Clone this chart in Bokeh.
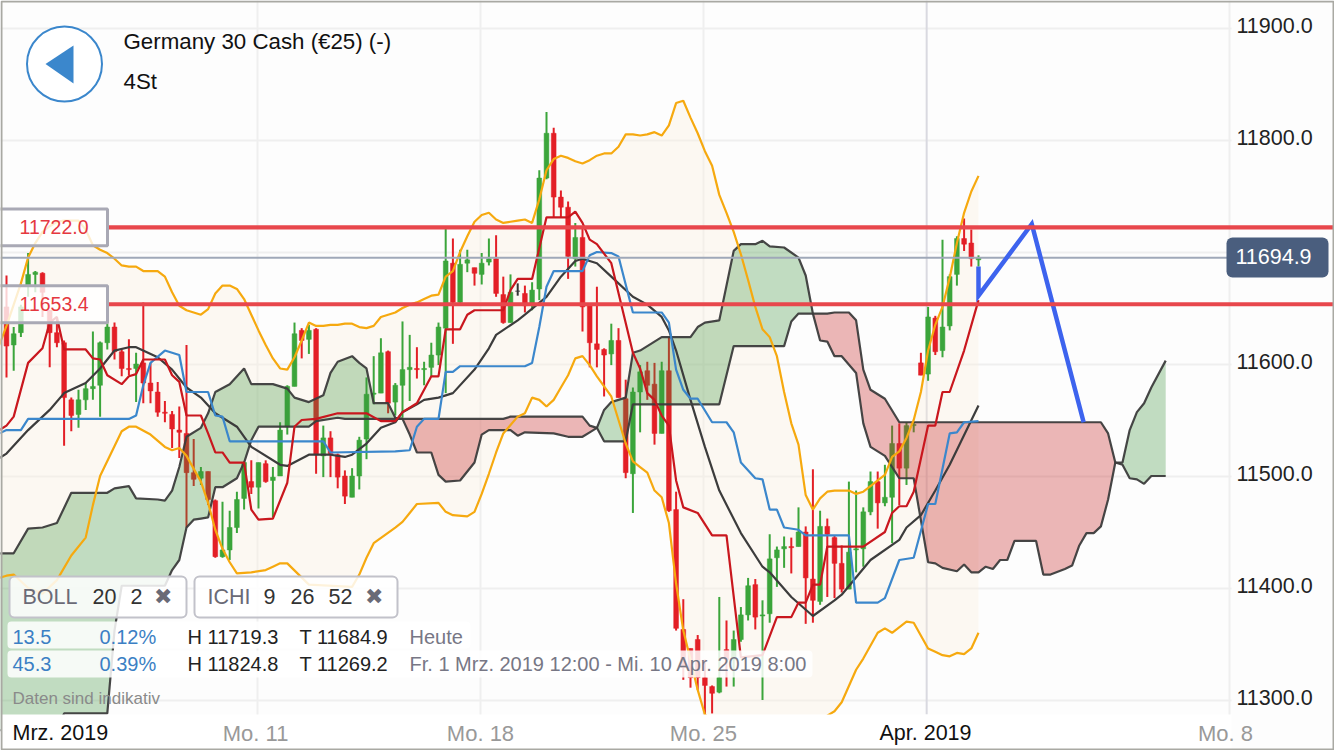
from bokeh.embed import file_html
from bokeh.models import BoxAnnotation, FixedTicker, Label, LinearAxis, Range1d
from bokeh.plotting import figure
from bokeh.resources import INLINE

# ---- data (price values; x is the 4h candle number) ----
opens = [11651,11617,11628,11670,11680,11681,11648,11628,11619,11568,
11555,11568,11578,11581,11619,11633,11611,11596,11596,11601,
11583,11575,11557,11555,11541,11538,11503,11498,11504,11478,
11428,11434,11454,11480,11495,11490,11511,11496,11500,11544,
11580,11630,11622,11631,11518,11534,11519,11500,11481,11500,
11533,11573,11574,11611,11566,11581,11595,11596,11595,11597,
11608,11632,11690,11655,11690,11686,11680,11691,11694,11662,
11637,11665,11663,11653,11667,11766,11806,11749,11740,11694,
11713,11652,11618,11613,11609,11621,11569,11502,11575,11594,
11582,11538,11594,11470,11363,11346,11354,11320,11312,11307,
11345,11336,11354,11376,11403,11375,11377,11427,11435,11437,
11437,11450,11408,11388,11455,11445,11422,11399,11434,11435,
11468,11495,11476,11481,11529,11507,11545,11601,11591,11641,
11612,11634,11680,11712,11708,11693]
closes = [11616,11627,11651,11680,11682,11664,11628,11619,11570,11554,
11568,11578,11580,11619,11633,11611,11596,11595,11600,11583,
11576,11557,11556,11542,11539,11503,11497,11504,11479,11428,
11434,11454,11479,11512,11490,11512,11495,11499,11541,11580,
11627,11621,11630,11519,11534,11520,11499,11482,11500,11532,
11573,11574,11610,11565,11581,11595,11597,11595,11596,11608,
11633,11692,11655,11689,11693,11681,11690,11694,11663,11637,
11664,11665,11652,11666,11766,11806,11749,11740,11696,11713,
11651,11619,11613,11608,11621,11570,11503,11575,11593,11581,
11538,11594,11469,11364,11329,11320,11320,11313,11306,11320,
11336,11354,11376,11402,11374,11376,11426,11434,11437,11436,
11450,11409,11389,11455,11448,11422,11399,11432,11435,11468,
11495,11476,11481,11529,11507,11545,11546,11590,11642,11611,
11633,11678,11712,11707,11694,11694.9]
highs = [11679,11633,11653,11699,11683,11682,11648,11642,11621,11570,
11577,11583,11629,11620,11637,11637,11613,11622,11610,11655,
11601,11584,11567,11558,11562,11617,11533,11508,11504,11479,
11477,11469,11486,11513,11514,11512,11514,11508,11548,11581,
11637,11632,11635,11632,11545,11540,11520,11505,11507,11535,
11588,11607,11623,11612,11583,11638,11626,11615,11602,11619,
11637,11721,11712,11702,11702,11686,11699,11712,11715,11678,
11680,11672,11670,11673,11773,11825,11811,11755,11745,11726,
11721,11652,11669,11614,11636,11632,11586,11579,11599,11602,
11601,11602,11624,11486,11390,11346,11358,11336,11313,11392,
11371,11362,11383,11409,11408,11389,11448,11437,11446,11445,
11472,11455,11506,11469,11462,11447,11438,11495,11487,11472,
11504,11504,11510,11545,11547,11548,11548,11610,11651,11643,
11711,11680,11714,11730,11720,11697]
lows = [11588,11594,11624,11660,11664,11642,11597,11615,11527,11540,
11543,11559,11568,11553,11613,11604,11589,11590,11566,11565,
11565,11553,11548,11525,11516,11454,11491,11492,11474,11427,
11427,11425,11449,11470,11484,11471,11494,11463,11500,11537,
11580,11605,11609,11502,11499,11499,11489,11475,11481,11488,
11515,11564,11574,11556,11554,11552,11567,11587,11581,11589,
11599,11574,11618,11654,11682,11670,11671,11688,11660,11636,
11637,11661,11646,11648,11657,11765,11731,11731,11676,11687,
11629,11597,11597,11571,11599,11570,11498,11467,11539,11568,
11528,11538,11468,11362,11318,11311,11309,11269,11288,11306,
11312,11312,11352,11371,11363,11300,11369,11401,11418,11413,
11437,11368,11369,11385,11392,11391,11396,11399,11414,11419,
11465,11453,11473,11440,11474,11492,11539,11590,11585,11608,
11606,11630,11670,11701,11687,11687]

boll_upper_x = list(range(-1, 136))
boll_upper = [11617,11634,11653,11672,11695,11708,11718,11723,11727,11728,11728,
11728,11720,11706,11702,11699,11694,11688,11687,11687,11683,
11683,11683,11678,11664,11652,11648,11646,11644,11649,11663,
11670,11670,11667,11658,11644,11630,11617,11605,11596,11595,
11606,11621,11637,11634,11634,11635,11635,11636,11636,11633,
11632,11634,11642,11644,11646,11650,11653,11655,11658,11661,
11662,11678,11683,11700,11714,11727,11733,11735,11729,11726,
11727,11728,11729,11726,11747,11773,11783,11786,11784,11781,
11779,11782,11786,11788,11788,11794,11805,11805,11804,11805,
11807,11804,11813,11833,11835,11820,11806,11790,11777,11751,
11735,11718,11698,11675,11651,11631,11624,11607,11575,11547,
11528,11483,11470,11480,11486,11487,11487,11487,11484,11486,
11491,11496,11501,11517,11522,11534,11550,11575,11612,11635,
11651,11677,11708,11735,11754,11768]

boll_lower_x = [-1,0,1,3,5,7,9,11,12,13,16,17,18,20,22,23,24,25,27,28,29,30,31,32,34,36,37,38,39,42,48,49,50,51,54,55,56,57,60,61,62,64,65,66,67,68,69,71,72,73,74,75,76,77,78,79,80,81,82,83,84,85,86,87,88,89,90,91,92,93,94,95,96,97,100,105,110,112,113,114,115,116,118,119,121,122,123,125,126,128,129,130,131,132,133,134,135]
boll_lower = [11409,11411,11412,11400,11395,11407,11429,11445,11474,11500,11540,11544,11544,11537,11526,11523,11525,11518,11495,11476,11452,11435,11423,11413,11414,11416,11419,11422,11422,11403,11401,11412,11427,11440,11454,11459,11467,11475,11476,11468,11465,11464,11468,11484,11502,11521,11538,11553,11556,11570,11568,11562,11568,11579,11590,11605,11607,11599,11589,11580,11571,11550,11529,11513,11508,11503,11487,11481,11458,11404,11362,11336,11309,11287,11270,11262,11265,11272,11280,11286,11290,11298,11327,11337,11360,11364,11360,11370,11369,11346,11343,11340,11339,11342,11341,11346,11360]

boll_mid_x = [-1,0,3,6,8,11,13,15,17,18,21,23,25,27,29,32,34,38,39,42,45,47,48,50,52,54,55,57,58,60,62,65,67,68,71,72,75,77,79,80,82,84,87,89,91,92,93,95,97,99,102,105,106,109,112,115,116,120,124,125,127,129,131,135]
boll_mid = [11516,11520,11541,11559,11574,11583,11596,11612,11615,11615,11606,11595,11579,11570,11556,11544,11526,11510,11509,11519,11519,11517,11519,11529,11543,11548,11557,11564,11568,11570,11574,11595,11614,11626,11639,11644,11660,11678,11692,11694,11690,11678,11660,11653,11642,11630,11612,11568,11526,11487,11449,11419,11414,11392,11375,11389,11394,11425,11443,11454,11465,11487,11510,11563]

tenkan_x = [-1,0,1,3,5,6,7,8,11,12,13,14,16,17,18,19,22,23,24,25,27,28,29,30,31,33,34,35,37,39,40,41,43,46,50,52,54,55,57,59,60,61,63,64,65,69,70,71,73,75,78,79,80,81,82,84,87,88,89,90,91,92,93,94,96,98,100,102,105,107,109,110,111,112,113,114,119,122,123,124,125,126,128,129,130,131,133,135]
tenkan = [11541,11545,11553,11601,11614,11637,11642,11613,11613,11605,11604,11590,11582,11589,11591,11604,11604,11590,11584,11554,11554,11538,11521,11521,11512,11512,11470,11461,11462,11494,11544,11550,11551,11556,11556,11549,11549,11557,11565,11589,11589,11631,11631,11644,11648,11648,11666,11676,11676,11731,11731,11736,11726,11711,11707,11690,11610,11596,11574,11568,11554,11545,11496,11472,11467,11447,11447,11338,11340,11374,11374,11387,11387,11403,11403,11437,11437,11450,11467,11473,11473,11486,11545,11545,11575,11575,11612,11657]

kijun_x = [-1,0,2,3,17,18,19,20,22,24,25,28,29,30,31,44,45,54,56,57,58,60,61,62,63,72,73,74,75,76,80,81,82,84,85,87,91,92,93,94,95,96,98,100,101,102,104,105,106,107,108,110,111,117,118,121,122,124,126,128,129,131,132,133,135]
kijun = [11538,11541,11541,11551,11551,11554,11581,11601,11612,11608,11575,11575,11554,11553,11531,11531,11521,11522,11523,11544,11551,11551,11593,11593,11598,11598,11601,11633,11669,11683,11683,11697,11700,11699,11696,11646,11646,11637,11595,11577,11569,11569,11548,11548,11539,11512,11498,11497,11470,11470,11454,11452,11447,11447,11387,11387,11391,11425,11427,11475,11475,11538,11539,11548,11549]

senkou_a_x = [-1,0,1,3,5,7,9,14,15,17,18,21,22,23,24,25,27,28,29,31,33,34,37,39,40,42,44,45,46,48,49,50,51,53,54,55,56,57,59,60,61,63,65,66,67,70,71,72,76,78,80,81,82,83,84,86,87,88,90,91,95,96,97,99,101,102,104,105,106,108,110,111,112,113,114,115,116,118,119,120,122,124,126,128,129,130,132,133,134,135,136,137,138,139,140,143,144,145,147,148,149,150,151,152,153,154,155,156,157,158,159,161]
senkou_a = [11431,11431,11431,11453,11454,11458,11485,11485,11489,11491,11480,11479,11478,11487,11508,11535,11543,11556,11575,11582,11596,11582,11582,11578,11570,11566,11572,11592,11602,11607,11601,11596,11565,11565,11552,11551,11537,11521,11521,11501,11495,11496,11512,11537,11541,11541,11536,11539,11538,11535,11535,11539,11543,11559,11566,11570,11610,11612,11620,11624,11624,11633,11637,11639,11701,11707,11707,11710,11705,11704,11695,11679,11645,11621,11620,11607,11607,11592,11547,11526,11518,11498,11498,11423,11422,11418,11415,11421,11414,11414,11419,11417,11425,11425,11442,11442,11412,11412,11417,11420,11438,11449,11449,11455,11479,11512,11512,11541,11557,11565,11579,11603]
senkou_b_x = [-1,7,8,14,15,16,22,23,24,25,26,27,28,29,30,32,33,34,35,42,43,46,47,55,69,70,80,81,82,83,86,87,99,101,108,109,110,112,114,115,117,118,119,120,122,124,152,153,154,155,156,157,158,159,161]
senkou_b = [11273,11273,11288,11288,11362,11402,11402,11416,11425,11454,11461,11462,11463,11490,11490,11498,11512,11532,11544,11544,11549,11552,11551,11551,11551,11553,11553,11545,11543,11531,11531,11564,11564,11616,11616,11638,11645,11645,11645,11646,11646,11639,11595,11577,11569,11548,11548,11538,11512,11510,11498,11497,11493,11500,11500]
cloud_crossings = [-1, 55, 82, 112, 154, 161]

drawing_x = [135, 135, 142.4, 149.6]
drawing_y = [11687, 11661, 11725, 11548]

level_high = 11722.0
level_low = 11653.4
last_price = 11694.9
y_tick_labels = {11901.8: "11900.0", 11801.8: "11800.0", 11601.8: "11600.0",
                 11501.8: "11500.0", 11401.8: "11400.0", 11301.8: "11300.0"}
y_grid_ticks = [11300, 11400, 11500, 11600, 11700, 11800, 11900]
x_labels = {34.6: "Mo. 11", 65.83: "Mo. 18", 96.8: "Mo. 25", 169.3: "Mo. 8"}
x_grid_ticks = [34.86, 65.83, 96.8, 169.9]
apr_tick = 127.8

# ---- palette ----
GREEN, RED, DARK = "#3ba53b", "#e31f26", "#333333"
ORANGE, LRED, LBLUE, LBLACK = "#f6a90f", "#c9171e", "#3b87cc", "#3c3c3c"
FONT = "Liberation Sans"


# page-pixel helpers for the furniture (not for the data)
def dx(px):
    return (px - 6) / 7.2


def dy(py):
    return 11700 + (251.5 - py) / 1.12


p = figure(
    width=1334, height=750, output_backend="svg", toolbar_location=None,
    x_range=Range1d(dx(0), dx(1334)), y_range=Range1d(dy(750), dy(0)),
    x_axis_location=None, y_axis_location=None,
    min_border_left=0, min_border_top=0, min_border_right=0, min_border_bottom=0,
    background_fill_color="#fdfdfd", border_fill_color="#ffffff",
)
p.outline_line_color = None

xax = LinearAxis(fixed_location=dy(714), ticker=FixedTicker(ticks=list(x_labels)),
                 major_label_overrides=dict(x_labels), major_label_text_color="#999999",
                 major_label_text_font=FONT, major_label_text_font_size="22px", major_label_standoff=0)
yax = LinearAxis(fixed_location=dx(1230), ticker=FixedTicker(ticks=list(y_tick_labels)),
                 major_label_overrides=dict(y_tick_labels), major_label_text_color="#222222",
                 major_label_text_font=FONT, major_label_text_font_size="21.5px", major_label_standoff=0)
for ax in (xax, yax):
    ax.axis_line_color = None
    ax.major_tick_line_color = None
    ax.minor_tick_line_color = None
p.add_layout(xax, "below")
p.add_layout(yax, "right")

p.xgrid.ticker = FixedTicker(ticks=x_grid_ticks)
p.ygrid.ticker = FixedTicker(ticks=y_grid_ticks)
p.xgrid.bounds = (dy(714), dy(0))
p.ygrid.bounds = (dx(0), dx(1230))
p.xgrid.grid_line_color = "#efefef"
p.ygrid.grid_line_color = "#efefef"
p.xgrid.grid_line_width = 2
p.ygrid.grid_line_width = 2
p.segment([apr_tick], [dy(714)], [apr_tick], [dy(0)], line_color="#d9d9e0", line_width=2)

# Bollinger band fill
n = len(opens)
band_x = boll_upper_x + boll_lower_x[::-1]
band_y = boll_upper + boll_lower[::-1]
p.patch(band_x, band_y, fill_color="#fbf0d9", fill_alpha=0.3, line_color=None)

# candles
xs = list(range(n))
colors = [GREEN if c > o else RED if c < o else DARK for o, c in zip(opens, closes)]
p.segment(xs, highs, xs, lows, line_color=colors, line_width=2)
p.vbar(xs, 0.66, opens, closes, fill_color=colors, line_color=colors, line_width=0.5)

# Ichimoku cloud
for k in range(len(cloud_crossings) - 1):
    lo, hi = cloud_crossings[k], cloud_crossings[k + 1]
    ax_ = [(x, v) for x, v in zip(senkou_a_x, senkou_a) if lo <= x <= hi]
    bx_ = [(x, v) for x, v in zip(senkou_b_x, senkou_b) if lo <= x <= hi]
    poly = ax_ + bx_[::-1]
    green = k % 2 == 0
    p.patch([q[0] for q in poly], [q[1] for q in poly],
            fill_color="#3c963c" if green else "#c83232", fill_alpha=0.31 if green else 0.35,
            line_color=None)
p.line(senkou_a_x, senkou_a, line_color=LBLACK, line_width=2.2, line_alpha=0.95)
p.line(senkou_b_x, senkou_b, line_color=LBLACK, line_width=2.2, line_alpha=0.95)

# indicator lines
p.line(boll_mid_x, boll_mid, line_color=LBLACK, line_width=2.2)
p.line(kijun_x, kijun, line_color=LBLUE, line_width=2.2)
p.line(tenkan_x, tenkan, line_color=LRED, line_width=2.2)
p.line(boll_upper_x, boll_upper, line_color=ORANGE, line_width=2.2)
p.line(boll_lower_x, boll_lower, line_color=ORANGE, line_width=2.2)

# last price line and drawn zig-zag
p.segment([dx(0)], [last_price], [dx(1230)], [last_price], line_color="#9fa8b8", line_width=2)
p.line(drawing_x, drawing_y, line_color="#3d63ee", line_width=4.5, line_join="miter")

# white strips around the plot area (under the axis labels, above the marks)
p.quad(left=[dx(0)], right=[dx(1334)], top=[dy(714)], bottom=[dy(750)], fill_color="#ffffff", line_color=None)
p.quad(left=[dx(1231)], right=[dx(1334)], top=[dy(0)], bottom=[dy(750)], fill_color="#fdfdfd", line_color=None)

# horizontal levels
for lev in (level_high, level_low):
    p.add_layout(BoxAnnotation(left=dx(107), right=dx(1334), top=lev + 1.8, bottom=lev - 1.8,
                               fill_color="#e8474c", fill_alpha=1, line_color=None))
    p.add_layout(BoxAnnotation(left=dx(-3), right=dx(107), top=lev + 16.5, bottom=lev - 16.5,
                               fill_color="#ffffff", fill_alpha=0.8,
                               line_color="#a9a9b5", line_alpha=1, line_width=3))
    p.add_layout(Label(x=dx(53.5), y=lev, text=f"{lev:.1f}", text_align="center", text_baseline="middle",
                       text_font=FONT, text_font_size="19.5px", text_color="#e5383f"))

# price pill
p.add_layout(BoxAnnotation(left=dx(1226), right=dx(1328), top=dy(237), bottom=dy(277),
                           fill_color="#4a5e7e", fill_alpha=1, line_color=None, border_radius=6))
p.add_layout(Label(x=dx(1273), y=dy(256), text=f"{last_price:.1f}", text_align="center",
                   text_baseline="middle", text_font=FONT, text_font_size="21.5px", text_color="#ffffff"))

# back button
p.scatter([dx(64)], [dy(63.5)], size=75, marker="circle", fill_color="#ffffff",
          line_color="#3b87cc", line_width=2)
p.patch([dx(45), dx(73), dx(73)], [dy(63.5), dy(45), dy(83)], fill_color="#3b87cc", line_color=None)


def text(px, py, s, color="#222222", size="20px", align="left"):
    p.add_layout(Label(x=dx(px), y=dy(py), text=s, text_align=align, text_baseline="middle",
                       text_font=FONT, text_font_size=size, text_color=color))


text(123, 41, "Germany 30 Cash (€25) (-)", "#111111", "22.3px")
text(123, 81, "4St", "#111111", "22.3px")

# indicator boxes
for l_, r_ in ((9, 186), (194, 397)):
    p.add_layout(BoxAnnotation(left=dx(l_), right=dx(r_), top=dy(576), bottom=dy(617),
                               fill_color="#ffffff", fill_alpha=0.85, line_color="#c2c2ca", line_alpha=1,
                               line_width=2, border_radius=5))
for l_, r_, t_, b_ in ((7, 470, 621, 648), (7, 812, 650, 677)):
    p.add_layout(BoxAnnotation(left=dx(l_), right=dx(r_), top=dy(t_), bottom=dy(b_),
                               fill_color="#ffffff", fill_alpha=0.85, line_color=None, border_radius=4))
text(22, 596, "BOLL", "#6a6a76", "21.5px")
text(92, 596, "20", "#333333", "21.5px")
text(130, 596, "2", "#333333", "21.5px")
text(162, 596, "✖", "#6a6a76", "22px", "center")
text(207, 596, "ICHI", "#6a6a76", "21.5px")
text(263, 596, "9", "#333333", "21.5px")
text(290, 596, "26", "#333333", "21.5px")
text(328, 596, "52", "#333333", "21.5px")
text(373, 596, "✖", "#6a6a76", "22px", "center")

text(12, 636, "13.5", "#3b7fc4")
text(99, 636, "0.12%", "#3b7fc4")
text(187, 636, "H 11719.3")
text(299, 636, "T 11684.9")
text(409, 636, "Heute", "#777785")
text(12, 663, "45.3", "#3b7fc4")
text(99, 663, "0.39%", "#3b7fc4")
text(187, 663, "H 11824.8")
text(299, 663, "T 11269.2")
text(409, 663, "Fr. 1 Mrz. 2019 12:00 - Mi. 10 Apr. 2019 8:00", "#777785")
text(12, 698, "Daten sind indikativ", "#8a8a8a", "17px")

text(12, 732, "Mrz. 2019", "#111111", "21.5px")
text(925, 732, "Apr. 2019", "#111111", "21.5px", "center")

# outer frame
p.add_layout(BoxAnnotation(left=dx(1), right=dx(1333), top=dy(1), bottom=dy(749),
                           fill_alpha=0, line_color="#a9a9a3", line_alpha=1, line_width=2))

open("out.html", "w").write(file_html(p, INLINE))
